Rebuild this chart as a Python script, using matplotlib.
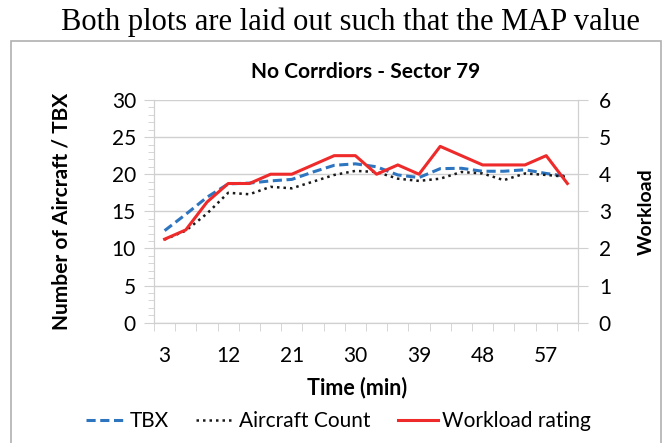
import matplotlib
matplotlib.use("Agg")
import matplotlib.pyplot as plt
from matplotlib.patches import Rectangle

plt.rcParams["font.family"] = ["Lato", "DejaVu Sans"]

times = [3, 6, 9, 12, 15, 18, 21, 24, 27, 30, 33, 36, 39, 42, 45, 48, 51, 54, 57, 60]
tbx = [12.4, 14.6, 16.9, 18.7, 18.8, 19.1, 19.3, 20.3, 21.2, 21.4, 21.0, 19.9, 19.55,
       20.75, 20.8, 20.4, 20.4, 20.6, 20.1, 19.7]
aircraft_count = [11.2, 12.4, 14.7, 17.5, 17.3, 18.3, 18.1, 19.0, 19.9, 20.45, 20.3, 19.4,
                  19.1, 19.4, 20.3, 20.1, 19.2, 20.1, 19.9, 19.65]
workload = [2.25, 2.5, 3.25, 3.75, 3.75, 4.0, 4.0, 4.25, 4.5, 4.5, 4.0, 4.25, 4.0,
            4.75, 4.5, 4.25, 4.25, 4.25, 4.5, 3.75]
tick_labels = ["3", "12", "21", "30", "39", "48", "57"]

fig = plt.figure(figsize=(6.63, 4.43), dpi=100)
ax = fig.add_axes([0.2323, 0.2716, 0.6395, 0.5027])
ax2 = ax.twinx()

pos = list(range(len(times)))
grid_c = "#d0d0d0"

ax.plot(pos, tbx, color="#2e75c0", linestyle=(0, (3, 1.5)), linewidth=2.2, label="TBX")
ax.plot(pos, aircraft_count, color="#1a1a1a", linestyle=(0, (1, 1.6)), linewidth=1.8,
        label="Aircraft Count")
ax2.plot(pos, workload, color="#ee2a2a", linewidth=2.2, label="Workload rating")

ax.set_xlim(-0.5, len(times) - 0.5)
ax.set_ylim(0, 30)
ax2.set_ylim(0, 6)
ax.set_yticks(range(0, 31, 5))
ax.set_yticks(range(0, 31), minor=True)
ax2.set_yticks(range(0, 7))

# category axis: labels every third category, tick marks between categories
ax.set_xticks([times.index(int(t)) for t in tick_labels])
ax.set_xticklabels(tick_labels)
ax.set_xticks([p - 0.5 for p in range(len(times) + 1)], minor=True)
ax.tick_params(axis="x", which="major", length=0, labelsize=15, pad=17)
ax.tick_params(axis="x", which="minor", length=6, color=grid_c, direction="out")
ax.tick_params(axis="y", which="major", length=7, color=grid_c, labelsize=15, pad=6)
ax.tick_params(axis="y", which="minor", length=4, color=grid_c)
ax2.tick_params(axis="y", length=7, color=grid_c, labelsize=15, pad=8)

ax.grid(axis="y", which="major", color=grid_c, linewidth=1)
ax.set_axisbelow(True)
for a in (ax, ax2):
  a.spines["top"].set_visible(False)
  a.spines["left"].set_color(grid_c)
  a.spines["right"].set_color(grid_c)
  a.spines["bottom"].set_color(grid_c)

ax.set_title("No Corrdiors - Sector 79", fontsize=15, fontweight="bold", pad=16)
ax.set_ylabel("Number of Aircraft / TBX", fontsize=15, fontweight="bold", va="center")
ax.yaxis.set_label_coords(-0.219, 0.5)
ax2.set_ylabel("Workload", fontsize=14, fontweight="bold", va="center")
ax2.yaxis.set_label_coords(1.16, 0.5)
ax.set_xlabel("Time (min)", fontsize=15.5, fontweight="bold", va="center")
ax.xaxis.set_label_coords(0.48, -0.293)

h1, l1 = ax.get_legend_handles_labels()
h2, l2 = ax2.get_legend_handles_labels()
fig.legend(h1 + h2, l1 + l2, loc="center", bbox_to_anchor=(0.51, 0.05), ncol=3,
           frameon=False, fontsize=15, handlelength=1.9, handletextpad=0.2,
           columnspacing=1.3)

fig.text(0.528, 0.95, "Both plots are laid out such that the MAP value",
         family="Liberation Serif", fontsize=22, ha="center", va="center")
fig.patches.append(Rectangle((11 / 663, -0.05), 650 / 663, 1 - 41 / 443 + 0.05,
                             transform=fig.transFigure, fill=False,
                             edgecolor="#b0b0b0", linewidth=1.2))

fig.savefig("out.png", dpi=100)
plt.close(fig)
